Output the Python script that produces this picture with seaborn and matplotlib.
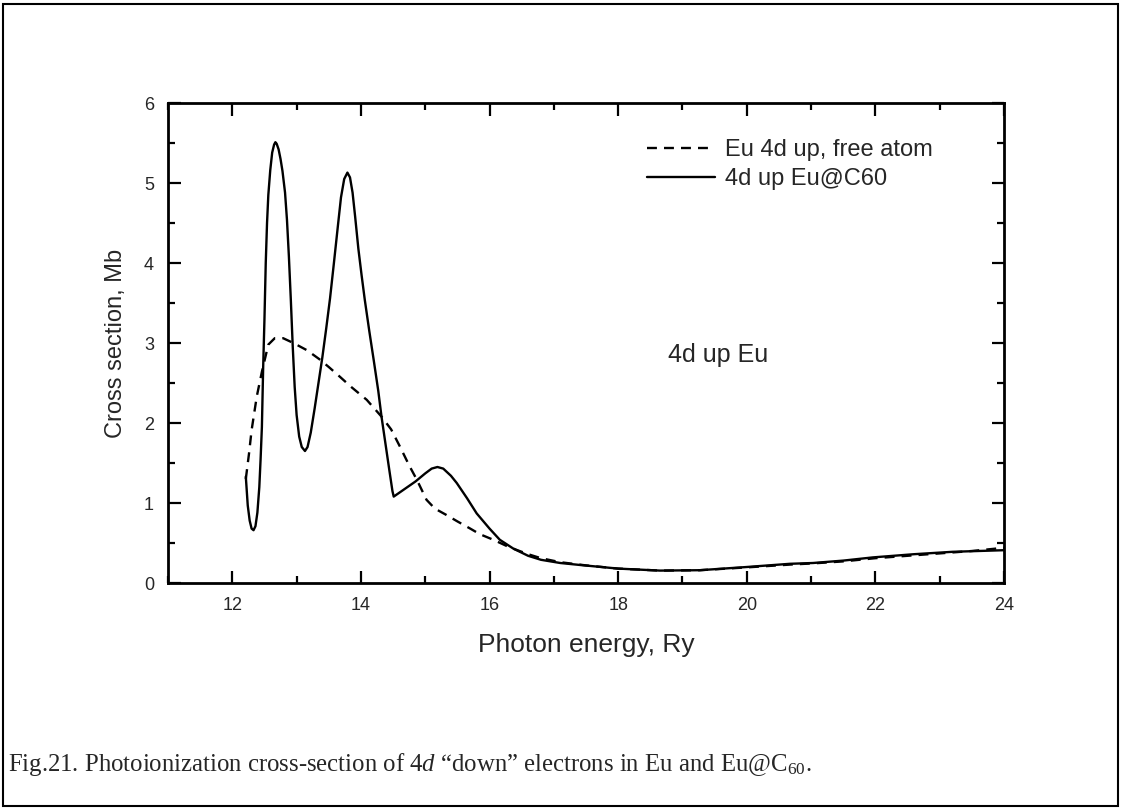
import matplotlib
matplotlib.use("Agg")
import matplotlib.pyplot as plt
from matplotlib.patches import Rectangle
from matplotlib.lines import Line2D
from matplotlib.ticker import MultipleLocator
import seaborn as sns
import pandas as pd

# ---- data ----
free_x = [12.21, 12.26, 12.30, 12.38, 12.46, 12.56, 12.66, 12.79, 12.95, 13.16,
          13.35, 13.50, 13.67, 13.85, 14.09, 14.32, 14.47, 14.61, 14.75, 14.87,
          15.02, 15.15, 15.33, 15.50, 15.70, 15.85, 16.06, 16.30, 16.60, 16.80,
          17.10, 17.50, 18.00, 18.65, 19.27, 20.00, 20.67, 21.03, 21.50, 22.00,
          22.50, 23.00, 23.50, 24.00]
free_y = [1.30, 1.62, 1.91, 2.33, 2.64, 2.98, 3.06, 3.06, 3.00, 2.91,
          2.80, 2.70, 2.58, 2.45, 2.29, 2.08, 1.92, 1.70, 1.47, 1.29,
          1.04, 0.93, 0.85, 0.77, 0.68, 0.61, 0.54, 0.45, 0.36, 0.31,
          0.26, 0.22, 0.18, 0.155, 0.16, 0.195, 0.23, 0.245, 0.27, 0.31,
          0.34, 0.37, 0.40, 0.44]

c60_x = [12.21, 12.24, 12.27, 12.30, 12.33, 12.36, 12.39, 12.42, 12.44, 12.46,
         12.48, 12.50, 12.52, 12.54, 12.56, 12.59, 12.62, 12.65, 12.67, 12.69,
         12.72, 12.75, 12.78, 12.82, 12.85, 12.88, 12.91, 12.94, 12.97, 13.00,
         13.04, 13.08, 13.13, 13.17, 13.22, 13.28, 13.34, 13.40, 13.46, 13.52,
         13.58, 13.64, 13.69, 13.74, 13.79, 13.83, 13.87, 13.91, 13.96, 14.01,
         14.06, 14.13, 14.20, 14.27, 14.32, 14.38, 14.44, 14.49, 14.51, 14.85,
         15.00, 15.10, 15.19, 15.28, 15.40, 15.49, 15.65, 15.80, 16.00, 16.16,
         16.37, 16.60, 16.80, 17.10, 17.41, 18.00, 18.65, 19.27, 20.00, 20.67,
         21.03, 21.50, 21.96, 22.60, 23.20, 24.00]
c60_y = [1.33, 0.97, 0.78, 0.68, 0.66, 0.71, 0.88, 1.20, 1.55, 1.95,
         2.70, 3.30, 4.00, 4.50, 4.85, 5.16, 5.38, 5.48, 5.51, 5.49,
         5.42, 5.30, 5.15, 4.88, 4.54, 4.08, 3.54, 2.95, 2.45, 2.10,
         1.83, 1.70, 1.65, 1.70, 1.88, 2.18, 2.50, 2.82, 3.18, 3.56,
         4.00, 4.45, 4.82, 5.05, 5.13, 5.07, 4.88, 4.58, 4.18, 3.85,
         3.54, 3.15, 2.78, 2.40, 2.08, 1.75, 1.42, 1.15, 1.08, 1.27,
         1.37, 1.43, 1.45, 1.43, 1.34, 1.25, 1.06, 0.87, 0.68, 0.54,
         0.43, 0.34, 0.29, 0.25, 0.225, 0.18, 0.155, 0.16, 0.20, 0.24,
         0.25, 0.28, 0.32, 0.36, 0.39, 0.41]

label_free = "Eu 4d up, free atom"
label_c60 = "4d up Eu@C60"
x_ticks = [12, 14, 16, 18, 20, 22, 24]
y_ticks = [0, 1, 2, 3, 4, 5, 6]

df = pd.concat([
    pd.DataFrame({"x": free_x, "y": free_y, "series": label_free}),
    pd.DataFrame({"x": c60_x, "y": c60_y, "series": label_c60}),
], ignore_index=True)

sns.set_theme(style="ticks")
plt.rcParams["font.family"] = ["Liberation Sans", "DejaVu Sans"]
plt.rcParams["mathtext.fontset"] = "custom"
plt.rcParams["mathtext.rm"] = "Liberation Serif"
plt.rcParams["mathtext.it"] = "Liberation Serif:italic"

fig = plt.figure(figsize=(11.21, 8.09), dpi=100)
fig.patch.set_facecolor("white")
ax = fig.add_axes([168 / 1121, 1 - 583 / 809, 836 / 1121, 480 / 809])

sns.lineplot(data=df, x="x", y="y", hue="series", style="series",
             palette={label_free: "black", label_c60: "black"},
             dashes={label_free: (4.2, 3.0), label_c60: ""},
             estimator=None, sort=False, linewidth=1.7, ax=ax, legend=False)
for ln in ax.get_lines():
    ln.set_solid_joinstyle("round")

ax.set_xlim(11, 24)
ax.set_ylim(0, 6)
ax.set_xticks(x_ticks)
ax.set_yticks(y_ticks)
ax.xaxis.set_minor_locator(MultipleLocator(1))
ax.yaxis.set_minor_locator(MultipleLocator(0.5))
ax.tick_params(which="both", direction="in", top=True, right=True,
               color="black", width=1.6)
ax.tick_params(which="major", length=9, labelsize=13, pad=10)
ax.tick_params(which="minor", length=5)
for s in ax.spines.values():
    s.set_linewidth(2.0)
    s.set_color("black")

ax.set_xlabel("Photon energy, Ry", fontsize=19, labelpad=14)
ax.set_ylabel("Cross section, Mb", fontsize=17, labelpad=12)

handles = [Line2D([], [], color="black", lw=1.7, linestyle=(0, (4.2, 3.0))),
           Line2D([], [], color="black", lw=1.7)]
ax.legend(handles, [label_free, label_c60], loc="upper left",
          bbox_to_anchor=((647 - 168) / 836, (583 - 139) / 480),
          frameon=False, fontsize=17, handlelength=2.9, handletextpad=0.4,
          labelspacing=0.3, borderpad=0, borderaxespad=0)

ax.text(18.78, 2.85, "4d up Eu", fontsize=18, ha="left", va="center")

fig.text(8 / 1121, 1 - 771 / 809,
         r"Fig.21. Photoionization cross-section of 4$\mathit{d}$ “down” electrons in Eu and Eu@C$_{60}$.",
         fontsize=17.8, family="Liberation Serif", ha="left", va="baseline")

fig.patches.append(Rectangle((3 / 1121, 3 / 809), 1115 / 1121, 802 / 809,
                             transform=fig.transFigure, fill=False,
                             edgecolor="black", linewidth=1.5))

fig.savefig("out.png", dpi=100, facecolor="white")
